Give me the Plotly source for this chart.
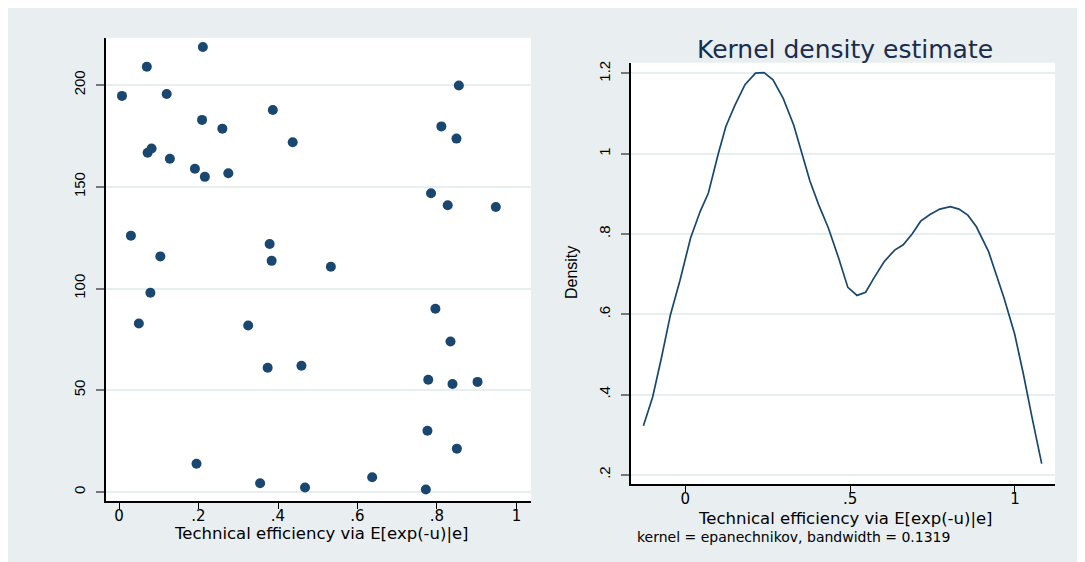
import plotly.graph_objects as go

# ---------------- data ----------------
eff_x = [0.0075, 0.070, 0.211, 0.120, 0.855, 0.387, 0.209, 0.260, 0.811, 0.437,
         0.849, 0.072, 0.082, 0.128, 0.191, 0.216, 0.275, 0.785, 0.827, 0.948,
         0.030, 0.379, 0.104, 0.384, 0.533, 0.079, 0.796, 0.050, 0.325, 0.834,
         0.374, 0.459, 0.778, 0.839, 0.902, 0.776, 0.850, 0.195, 0.355, 0.468,
         0.637, 0.772]
id_y = [194.7, 209.0, 218.7, 195.6, 199.8, 187.8, 182.9, 178.6, 179.7, 171.9,
        173.7, 166.7, 168.8, 163.8, 158.9, 154.9, 156.7, 146.8, 140.9, 140.1,
        126.0, 121.9, 115.8, 113.6, 110.7, 97.9, 90.1, 82.8, 81.8, 74.0,
        61.1, 62.0, 55.2, 53.1, 54.1, 30.1, 21.3, 13.9, 4.3, 2.2,
        7.2, 1.2]

kd_x = [-0.127, -0.099, -0.072, -0.045, -0.016, 0.016, 0.045, 0.070, 0.100, 0.123,
        0.150, 0.181, 0.213, 0.239, 0.266, 0.297, 0.329, 0.350, 0.378, 0.405,
        0.434, 0.466, 0.493, 0.521, 0.547, 0.572, 0.603, 0.635, 0.661, 0.688,
        0.714, 0.741, 0.772, 0.804, 0.830, 0.857, 0.883, 0.920, 0.967, 0.999,
        1.025, 1.052, 1.081]
kd_y = [0.322, 0.394, 0.493, 0.599, 0.685, 0.790, 0.856, 0.902, 1.000, 1.068,
        1.120, 1.172, 1.201, 1.202, 1.184, 1.138, 1.071, 1.012, 0.932, 0.872,
        0.815, 0.738, 0.667, 0.647, 0.655, 0.690, 0.731, 0.760, 0.773, 0.800,
        0.832, 0.848, 0.862, 0.868, 0.862, 0.847, 0.818, 0.756, 0.640, 0.551,
        0.453, 0.342, 0.228]

left_xticks = [0, 0.2, 0.4, 0.6, 0.8, 1]
left_xticklabels = ["0", ".2", ".4", ".6", ".8", "1"]
left_yticks = [0, 50, 100, 150, 200]
left_yticklabels = ["0", "50", "100", "150", "200"]
right_xticks = [0, 0.5, 1]
right_xticklabels = ["0", ".5", "1"]
right_yticks = [0.2, 0.4, 0.6, 0.8, 1.0, 1.2]
right_yticklabels = [".2", ".4", ".6", ".8", "1", "1.2"]

x_title = "Technical efficiency via E[exp(-u)|e]"
kd_title = "Kernel density estimate"
kd_ytitle = "Density"
kd_note = "kernel = epanechnikov, bandwidth = 0.1319"

# ---------------- style ----------------
OFF = 8  # page body margin
W, H = 1085 - OFF, 562 - OFF
NAVY = "#1a476f"
BG = "#e9eff1"
GRID = "#e6eef0"
WIDE = "DejaVu Sans"
NARROW = "Liberation Sans"


def px(x):
    return (x - OFF) / W


def py(y):
    return 1 - (y - OFF) / H


fig = go.Figure()
fig.add_trace(go.Scatter(x=eff_x, y=id_y, mode="markers",
                         marker=dict(color=NAVY, size=10, line=dict(width=0)),
                         xaxis="x", yaxis="y", showlegend=False))
fig.add_trace(go.Scatter(x=kd_x, y=kd_y, mode="lines",
                         line=dict(color=NAVY, width=1.7),
                         xaxis="x2", yaxis="y2", showlegend=False))

xcommon = dict(showgrid=False, zeroline=False, showline=True, linecolor="black",
               linewidth=1.5, ticks="outside", ticklen=6, tickcolor="black",
               tickwidth=1.2, tickmode="array", ticklabelstandoff=-6,
               tickfont=dict(family=WIDE, size=15, color="black"))
ycommon = dict(showgrid=True, gridcolor=GRID, gridwidth=1.5, zeroline=False,
               showline=True, linecolor="black", linewidth=1.5, ticks="outside",
               ticklen=8, tickcolor="#777777", tickwidth=1.5, tickmode="array",
               tickangle=-90, ticklabelstandoff=5,
               tickfont=dict(family=NARROW, size=15, color="black"))

fig.update_layout(
    width=W, height=H, autosize=False,
    margin=dict(l=0, r=0, t=0, b=0),
    paper_bgcolor=BG, plot_bgcolor="white",
    xaxis=dict(xcommon, domain=[px(106), px(531)], range=[-0.0327, 1.0365],
               tickvals=left_xticks, ticktext=left_xticklabels, anchor="y"),
    yaxis=dict(ycommon, domain=[py(501), py(36)], range=[-4.55, 223.2],
               tickvals=left_yticks, ticktext=left_yticklabels, anchor="x"),
    xaxis2=dict(xcommon, domain=[px(631), px(1055)], range=[-0.1647, 1.1214],
                tickvals=right_xticks, ticktext=right_xticklabels, anchor="y2"),
    yaxis2=dict(ycommon, domain=[py(484), py(61)], range=[0.1764, 1.2266],
                tickvals=right_yticks, ticktext=right_yticklabels, anchor="x2"),
    annotations=[
        dict(text=x_title, xref="paper", yref="paper", x=px(321), y=py(533),
             xanchor="center", yanchor="middle", showarrow=False,
             font=dict(family=WIDE, size=16.5, color="black")),
        dict(text=x_title, xref="paper", yref="paper", x=px(845.5), y=py(518),
             xanchor="center", yanchor="middle", showarrow=False,
             font=dict(family=WIDE, size=16.5, color="black")),
        dict(text=kd_note, xref="paper", yref="paper", x=px(634.5), y=py(537),
             xanchor="left", yanchor="middle", showarrow=False,
             font=dict(family=WIDE, size=14, color="black")),
        dict(text=kd_title, xref="paper", yref="paper", x=px(845), y=py(48),
             xanchor="center", yanchor="middle", showarrow=False,
             font=dict(family=WIDE, size=25, color="#1c2c4c")),
        dict(text=kd_ytitle, xref="paper", yref="paper", x=px(571), y=py(272),
             xanchor="center", yanchor="middle", showarrow=False, textangle=-90,
             font=dict(family=NARROW, size=16, color="black")),
    ],
)

fig.write_html("out.html")
